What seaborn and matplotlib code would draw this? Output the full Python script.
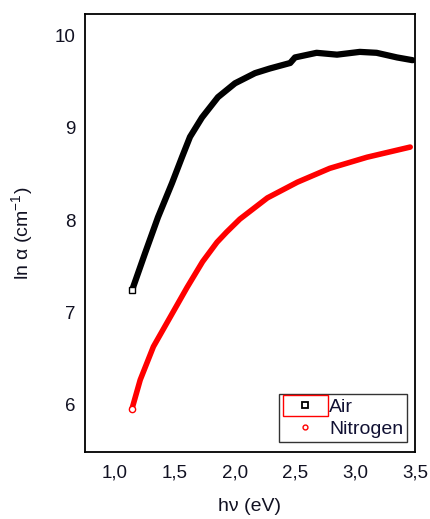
import matplotlib
matplotlib.use('Agg')
import matplotlib.pyplot as plt
import pandas as pd
import seaborn as sns
from matplotlib.lines import Line2D
from matplotlib.patches import Rectangle

# photon energy (eV) and ln(alpha)
air_hv = [1.142, 1.25, 1.358, 1.475, 1.558, 1.625, 1.725, 1.858, 2.0, 2.167, 2.29, 2.46,
          2.50, 2.68, 2.85, 3.04, 3.18, 3.35, 3.48]
air_ln = [7.24, 7.64, 8.03, 8.40, 8.68, 8.90, 9.11, 9.33, 9.48, 9.59, 9.64, 9.70,
          9.76, 9.81, 9.79, 9.82, 9.81, 9.76, 9.73]

n2_hv = [1.14, 1.21, 1.32, 1.46, 1.60, 1.73, 1.85, 1.93, 2.04, 2.15, 2.27, 2.52, 2.79,
         3.10, 3.46]
n2_ln = [5.95, 6.27, 6.63, 6.95, 7.27, 7.55, 7.76, 7.87, 8.01, 8.12, 8.24, 8.41, 8.56,
         8.68, 8.79]

x_ticks = [1.0, 1.5, 2.0, 2.5, 3.0, 3.5]
x_labels = ['1,0', '1,5', '2,0', '2,5', '3,0', '3,5']
y_ticks = [6, 7, 8, 9, 10]

sns.set_style('white')
plt.rcParams['font.family'] = ['Liberation Sans', 'DejaVu Sans']
plt.rcParams['mathtext.default'] = 'regular'

df_air = pd.DataFrame({'hv': air_hv, 'ln_alpha': air_ln})
df_n2 = pd.DataFrame({'hv': n2_hv, 'ln_alpha': n2_ln})

fig = plt.figure(figsize=(4.3, 5.19), dpi=100)
ax = fig.add_axes([85 / 430, 1 - 452 / 519, 330 / 430, 438 / 519])

sns.lineplot(data=df_air, x='hv', y='ln_alpha', sort=False, ax=ax, color='black',
             linewidth=4.5, marker='s', markersize=4.5, markerfacecolor='white',
             markeredgecolor='black', markeredgewidth=1, markevery=[0],
             solid_joinstyle='round')
sns.lineplot(data=df_n2, x='hv', y='ln_alpha', sort=False, ax=ax, color='red',
             linewidth=4, marker='o', markersize=4.5, markerfacecolor='white',
             markeredgecolor='red', markeredgewidth=1, markevery=[0],
             solid_joinstyle='round')

ax.set_xlim(0.75, 3.5)
ax.set_ylim(5.49, 10.23)
ax.set_xticks(x_ticks)
ax.set_xticklabels(x_labels)
ax.set_yticks(y_ticks)
ax.tick_params(axis='both', length=0, labelsize=13.5, colors='#111122')
ax.tick_params(axis='x', pad=9)
ax.tick_params(axis='y', pad=7)
for s in ax.spines.values():
    s.set_color('black')
    s.set_linewidth(1.3)

ax.set_xlabel('hν (eV)', fontsize=14, labelpad=12, color='#111122')
ax.set_ylabel('ln α (cm$^{-1}$)', fontsize=14, labelpad=14, color='#111122')

handles = [
    Line2D([], [], linestyle='none', marker='s', markersize=4, markerfacecolor='white',
           markeredgecolor='black', markeredgewidth=1.3),
    Line2D([], [], linestyle='none', marker='o', markersize=3.5, markerfacecolor='white',
           markeredgecolor='red', markeredgewidth=1),
]
leg = ax.legend(handles, ['Air', 'Nitrogen'], loc='lower right', bbox_to_anchor=(0.976, 0.023),
                borderaxespad=0, fontsize=14, frameon=True, fancybox=False,
                handlelength=2.3, handletextpad=0.1, borderpad=0.2, labelspacing=0.25)
leg.get_frame().set_edgecolor('black')
leg.get_frame().set_linewidth(1)
for t in leg.get_texts():
    t.set_color('#111133')

# selection highlight box drawn around the Air entry
fig.patches.append(Rectangle((283 / 430, 1 - 416 / 519), 45 / 430, 21 / 519,
                             transform=fig.transFigure, fill=False, edgecolor='red',
                             linewidth=1, zorder=10))

fig.savefig('out.png', dpi=100)
